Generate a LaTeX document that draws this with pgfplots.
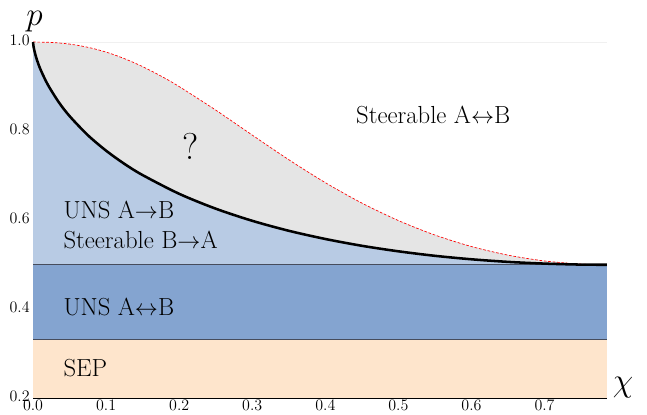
\documentclass[border=0pt]{standalone}
\usepackage{pgfplots}
\usepackage{pgfplotstable}
\pgfplotsset{compat=1.18}
\usepgfplotslibrary{fillbetween}

\definecolor{sepcol}{RGB}{254,229,204}
\definecolor{unsboth}{RGB}{132,164,208}
\definecolor{unsone}{RGB}{184,203,228}
\definecolor{unknown}{RGB}{229,229,229}
\definecolor{bound}{RGB}{70,76,92}

% lower boundary of the "?" region (thick black)
\pgfplotstableread{
chi p
0 1
0.0005 0.9921
0.001 0.9873
0.0025 0.9761
0.005 0.9617
0.01 0.9393
0.02 0.9050
0.035 0.8655
0.05 0.8338
0.075 0.7909
0.1 0.7561
0.125 0.7266
0.15 0.7013
0.2 0.6593
0.25 0.6259
0.3 0.5987
0.35 0.5763
0.4 0.5579
0.45 0.5426
0.5 0.5302
0.55 0.5201
0.6 0.5123
0.65 0.5065
0.7 0.5026
0.75 0.5004
0.7854 0.5
}\blackcurve

% upper boundary (red dashed)
\pgfplotstableread{
chi p
0 1
0.025 0.9991
0.05 0.9954
0.075 0.9882
0.1 0.9774
0.125 0.9628
0.15 0.9448
0.175 0.9237
0.2 0.9000
0.25 0.8472
0.3 0.7911
0.35 0.7358
0.4 0.6843
0.45 0.6385
0.5 0.5992
0.55 0.5667
0.6 0.5409
0.65 0.5216
0.7 0.5085
0.75 0.5015
0.7854 0.5
}\redcurve

\begin{document}
\begin{tikzpicture}
\begin{axis}[
  scale only axis, width=430pt, height=267pt,
  xmin=0, xmax=0.7854, ymin=0.2, ymax=1.0,
  axis lines=left, axis line style={-, black, line width=0.6pt},
  tick align=inside,
  xtick={0,0.1,0.2,0.3,0.4,0.5,0.6,0.7},
  ytick={0.2,0.4,0.6,0.8,1.0},
  minor x tick num=4, minor y tick num=3,
  major tick length=4pt, minor tick length=2.2pt,
  tick style={black, line width=0.5pt},
  ticklabel style={font=\fontsize{13}{15}\selectfont},
  xticklabel style={yshift=2.5pt, /pgf/number format/.cd, fixed, fixed zerofill, precision=1},
  yticklabel style={xshift=1pt, yshift=1.2pt, /pgf/number format/.cd, fixed, fixed zerofill, precision=1},
  clip=false,
]
% regions
\addplot[draw=none, fill=sepcol] coordinates {(0,0.2) (0.7854,0.2) (0.7854,0.3333) (0,0.3333)};
\addplot[draw=none, fill=unsboth] coordinates {(0,0.3333) (0.7854,0.3333) (0.7854,0.5) (0,0.5)};
\addplot[draw=none, name path=red] table[x=chi, y=p] {\redcurve};
\addplot[draw=none, name path=blk] table[x=chi, y=p] {\blackcurve};
\addplot[draw=none, name path=half] coordinates {(0,0.5) (0.7854,0.5)};
\addplot[unknown] fill between[of=red and blk];
\addplot[unsone] fill between[of=blk and half];

% boundaries
\addplot[black!6, line width=0.4pt] coordinates {(0,1) (0.7854,1)};
\addplot[bound, line width=0.7pt] coordinates {(0,0.3333) (0.7854,0.3333)};
\addplot[bound, line width=0.7pt] coordinates {(0,0.5) (0.7854,0.5)};
\addplot[red, line width=0.5pt, dash pattern=on 2pt off 1.3pt, smooth] table[x=chi, y=p] {\redcurve};
\addplot[black, line width=1.9pt, smooth] table[x=chi, y=p] {\blackcurve};

% labels
\node[anchor=center, font=\fontsize{18.5}{22}\selectfont] at (axis cs:0.5476,0.836) {Steerable A$\leftrightarrow$B};
\node[anchor=center, font=\fontsize{28}{32}\selectfont] at (axis cs:0.216,0.766) {?};
\node[anchor=west, inner sep=0pt, font=\fontsize{18.5}{22}\selectfont] at (axis cs:0.0414,0.6225) {UNS A$\rightarrow$B};
\node[anchor=west, inner sep=0pt, font=\fontsize{18.5}{22}\selectfont] at (axis cs:0.0414,0.555) {Steerable B$\rightarrow$A};
\node[anchor=west, inner sep=0pt, font=\fontsize{18.5}{22}\selectfont] at (axis cs:0.0414,0.4045) {UNS A$\leftrightarrow$B};
\node[anchor=west, inner sep=0pt, font=\fontsize{18.5}{22}\selectfont] at (axis cs:0.0414,0.2674) {SEP};
\node[font=\fontsize{24}{28}\selectfont] at (axis cs:0.002,1) [yshift=15pt] {$p$};
\node[font=\fontsize{24}{28}\selectfont] at (axis cs:0.7854,0.2) [xshift=12pt, yshift=8pt] {$\chi$};

\coordinate (bl) at (axis cs:0,0.2);
\coordinate (tr) at (axis cs:0.7854,1);
\end{axis}
\pgfresetboundingbox
\path ([shift={(-24.75pt,-12pt)}]bl) rectangle ([shift={(30pt,31.5pt)}]tr);
\end{tikzpicture}
\end{document}
